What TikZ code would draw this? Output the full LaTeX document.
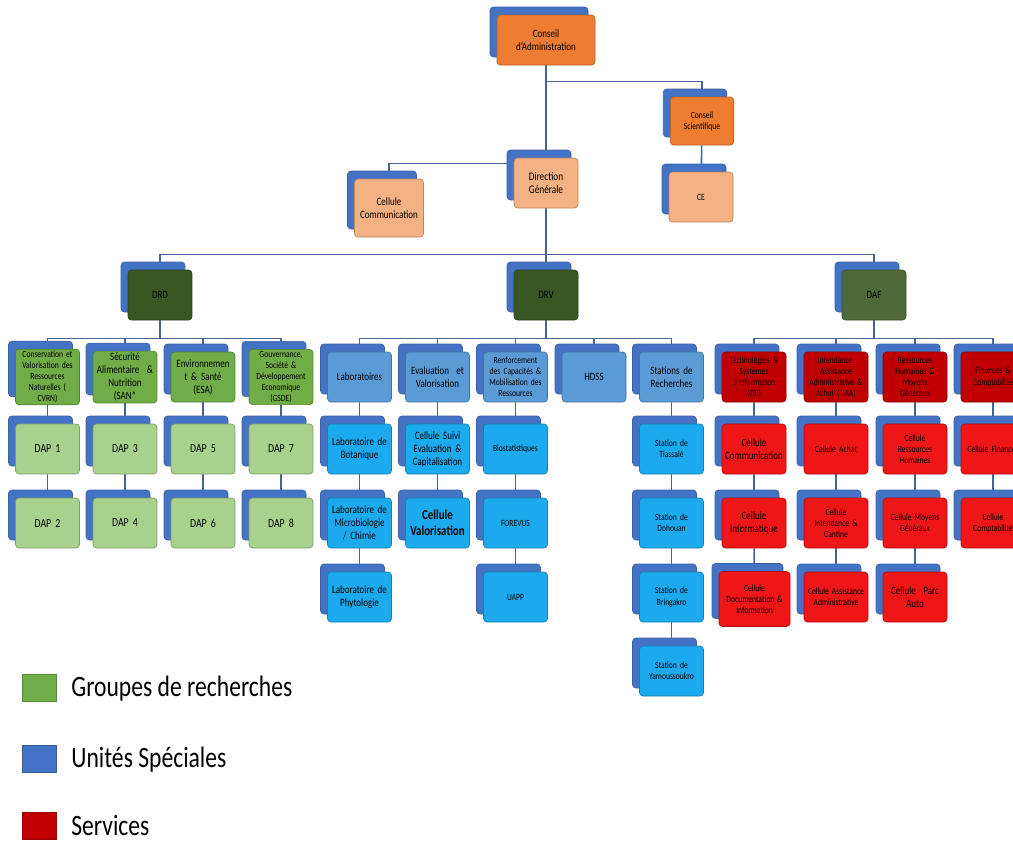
\documentclass[tikz,border=0pt]{standalone}
\usepackage{fontspec}
\setmainfont{Carlito}[FakeStretch=0.8]
\usetikzlibrary{shadows,positioning,backgrounds}
\definecolor{backblue}{RGB}{68,114,196}
\definecolor{linkblue}{RGB}{72,100,145}
\definecolor{caorange}{RGB}{237,125,49}
\definecolor{salmon}{RGB}{244,177,131}
\definecolor{dirgreen}{RGB}{56,87,35}
\definecolor{dafgreen}{RGB}{78,106,56}
\definecolor{groupgreen}{RGB}{112,173,71}
\definecolor{dapgreen}{RGB}{169,209,142}
\definecolor{unitblue}{RGB}{91,155,213}
\definecolor{cellblue}{RGB}{28,170,238}
\definecolor{servred}{RGB}{192,0,0}
\definecolor{cellred}{RGB}{238,22,22}

\begin{document}
\begin{tikzpicture}[x=0.02cm, y=-0.02cm,
    unit/.style={rectangle, rounded corners=2pt, fill=#1, draw=#1!75!black, line width=0.4pt,
        minimum width=1.28cm, minimum height=1cm, text width=1.2cm, inner sep=1pt, align=center,
        font=\fontsize{6.4}{7.4}\selectfont,
        general shadow={fill=backblue, draw=backblue!85!black, shadow xshift=-0.14cm, shadow yshift=0.16cm}},
    small/.style={font=\fontsize{5.4}{6.3}\selectfont},
    dap/.style={unit=dapgreen, font=\fontsize{7}{8.4}\selectfont},
    conn/.style={draw=linkblue, line width=0.9pt},
    legbox/.style={rectangle, minimum width=0.68cm, minimum height=0.54cm, inner sep=0pt, fill=#1, draw=#1!80!black},
    legtext/.style={anchor=west, inner sep=0pt, font=\fontsize{16.8}{19}\selectfont}
]
\useasboundingbox (0,0) rectangle (1013,843);
\clip (0,0) rectangle (1013,843);

% Top of the chart
\node[unit=caorange, minimum width=1.96cm, text width=1.85cm] (CA) at (546,40) {Conseil\\d'Administration};
\node[unit=caorange, minimum width=1.24cm, minimum height=0.96cm, small] (CS) at (702,121) {Conseil\\Scientifique};
\node[unit=salmon, small] (CE) at (701,197) {CE};
\node[unit=salmon, font=\fontsize{6.6}{7.8}\selectfont] (DG) at (546,183) {Direction\\Générale};
\node[unit=salmon, minimum width=1.38cm, minimum height=1.16cm, text width=1.3cm] (CC) at (389,208) {Cellule\\Communication};

% Directions
\node[unit=dirgreen] (DRD) at (160,295) {DRD};
\node[unit=dirgreen] (DRV) at (546,295) {DRV};
\node[unit=dafgreen] (DAF) at (874,295) {DAF};

% DRD: groupes de recherches
\node[unit=groupgreen, small] (CVRN) at (47.5,377) {Conservation et\\Valorisation des\\Ressources\\Naturelles (\\CVRN)};
\node[unit=groupgreen] (SAN) at (125,377) {Sécurité\\Alimentaire~~\&\\Nutrition\\(SAN*};
\node[unit=groupgreen] (ESA) at (203,377) {Environnemen\\t \& Santé\\(ESA)};
\node[unit=groupgreen, small] (GSDE) at (281,377) {Gouvernance,\\Société \&\\Développement\\Economique\\(GSDE)};

\node[dap] (DAP1) at (47.5,449) {DAP 1};
\node[dap] (DAP2) at (47.5,523) {DAP 2};
\node[dap] (DAP3) at (125,449) {DAP 3};
\node[dap] (DAP4) at (125,523) {DAP 4};
\node[dap] (DAP5) at (203,449) {DAP 5};
\node[dap] (DAP6) at (203,523) {DAP 6};
\node[dap] (DAP7) at (281,449) {DAP 7};
\node[dap] (DAP8) at (281,523) {DAP 8};

% DRV: unites speciales
\node[unit=unitblue] (LAB) at (359.5,377) {Laboratoires};
\node[unit=unitblue] (EVAL) at (437.5,377) {Evaluation~~et\\Valorisation};
\node[unit=unitblue, small] (RENF) at (515.5,377) {Renforcement\\des Capacités \&\\Mobilisation des\\Ressources};
\node[unit=unitblue] (HDSS) at (594,377) {HDSS};
\node[unit=unitblue] (STAT) at (671.5,377) {Stations de\\Recherches};

\node[unit=cellblue] (BOT) at (359.5,449) {Laboratoire de\\Botanique};
\node[unit=cellblue] (MICRO) at (359.5,523) {Laboratoire de\\Microbiologie\\/ Chimie};
\node[unit=cellblue] (PHYTO) at (359.5,597) {Laboratoire de\\Phytologie};
\node[unit=cellblue] (SUIVI) at (437.5,449) {Cellule Suivi\\Evaluation \&\\Capitalisation};
\node[unit=cellblue, font=\fontsize{7.8}{9}\selectfont\bfseries] (VALO) at (437.5,523) {Cellule\\Valorisation};
\node[unit=cellblue, small] (BIO) at (515.5,449) {Biostatistiques};
\node[unit=cellblue, small] (FOREVUS) at (515.5,523) {FOREVUS};
\node[unit=cellblue, small] (UAPP) at (515.5,597) {UAPP};
\node[unit=cellblue, small] (TIA) at (671.5,449) {Station de\\Tiassalé};
\node[unit=cellblue, small] (DOH) at (671.5,523) {Station de\\Dohouan};
\node[unit=cellblue, small] (BRI) at (671.5,597) {Station de\\Bringakro};
\node[unit=cellblue, small] (YAM) at (671.5,671) {Station de\\Yamoussoukro};

% DAF: services
\node[unit=servred, small] (TSI) at (754,377) {Technologies \&\\Systèmes\\d'Information\\(TSI)};
\node[unit=servred, small] (IAA) at (836,377) {Intendance,\\Assistance\\Administrative \&\\Achat ( IAA)};
\node[unit=servred, small] (RHMG) at (915,377) {Ressources\\Humaines \&\\Moyens\\Généraux};
\node[unit=servred, small] (FIN) at (993,377) {Finances \&\\Comptabilité};

\node[unit=cellred] (CCOM) at (754,449) {Cellule\\Communication};
\node[unit=cellred] (CINF) at (754,523) {Cellule\\Informatique};
\node[unit=cellred, small, minimum width=1.42cm, minimum height=1.1cm] (CDOC) at (754.5,599) {Cellule\\Documentation \&\\Information};
\node[unit=cellred, small] (CACH) at (836,449) {Cellule Achat};
\node[unit=cellred, small] (CINT) at (836,523) {Cellule\\Intendance \&\\Cantine};
\node[unit=cellred, small] (CASS) at (836,597) {Cellule Assistance\\Administrative};
\node[unit=cellred, small] (CRH) at (915,449) {Cellule\\Ressources\\Humaines};
\node[unit=cellred, small] (CMG) at (915,523) {Cellule Moyens\\Généraux};
\node[unit=cellred] (CPA) at (915,597) {Cellule~~Parc\\Auto};
\node[unit=cellred, small] (CFIN) at (993,449) {Cellule Finances};
\node[unit=cellred, small] (CCPT) at (993,523) {Cellule\\Comptabilité};

% Connectors (they meet the blue back boxes in their middle)
\begin{scope}[on background layer, transform canvas={xshift=-0.14cm}]
\draw[conn] (CA.south) -- (DG.north);
\draw[conn] (CA.south) ++(0,16) -| (CS.north);
\draw[conn] (CS) -- (CE);
\draw[conn] (DG.north west) ++(0,6) -| (CC.north);
\foreach \d in {DRD,DRV,DAF}
    \draw[conn] (DG.south) -- ++(0,46) -| (\d.north);
\foreach \c in {CVRN,SAN,ESA,GSDE}
    \draw[conn] (DRD.south) -- ++(0,18) -| (\c.north);
\foreach \c in {LAB,EVAL,RENF,HDSS,STAT}
    \draw[conn] (DRV.south) -- ++(0,18) -| (\c.north);
\foreach \c in {TSI,IAA,RHMG,FIN}
    \draw[conn] (DAF.south) -- ++(0,18) -| (\c.north);
\draw[conn] (CVRN) -- (DAP1) -- (DAP2);
\draw[conn] (SAN) -- (DAP3) -- (DAP4);
\draw[conn] (ESA) -- (DAP5) -- (DAP6);
\draw[conn] (GSDE) -- (DAP7) -- (DAP8);
\draw[conn] (LAB) -- (BOT) -- (MICRO) -- (PHYTO);
\draw[conn] (EVAL) -- (SUIVI) -- (VALO);
\draw[conn] (RENF) -- (BIO) -- (FOREVUS) -- (UAPP);
\draw[conn] (STAT) -- (TIA) -- (DOH) -- (BRI) -- (YAM);
\draw[conn] (TSI) -- (CCOM) -- (CINF) -- (CDOC);
\draw[conn] (IAA) -- (CACH) -- (CINT) -- (CASS);
\draw[conn] (RHMG) -- (CRH) -- (CMG) -- (CPA);
\draw[conn] (FIN) -- (CFIN) -- (CCPT);
\end{scope}

% Legend
\node[legbox=groupgreen] (LG) at (39,688) {};
\node[legbox=backblue] (LU) at (39,759) {};
\node[legbox=servred] (LS) at (39,826) {};
\node[legtext] (LGt) at (71,689) {Groupes de recherches};
\node[legtext] (LUt) at (71,760) {Unités Spéciales};
\node[legtext] (LSt) at (71,825) {Services};

\end{tikzpicture}
\end{document}
